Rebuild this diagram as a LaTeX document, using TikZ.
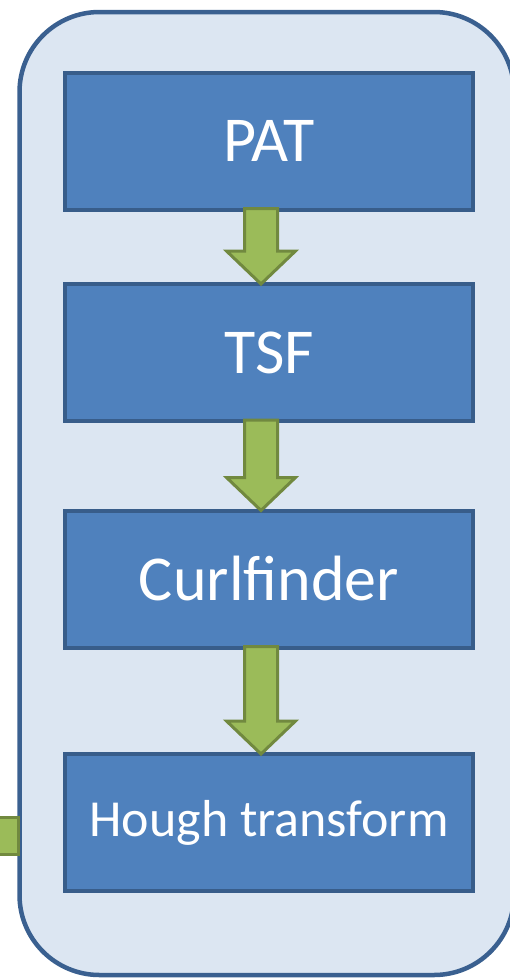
\documentclass[tikz,border=0pt]{standalone}
\usepackage{fontspec}
\setmainfont{Carlito}
\usetikzlibrary{calc}
\definecolor{panelfill}{HTML}{DCE6F2}
\definecolor{panelline}{HTML}{3A6090}
\definecolor{boxfill}{HTML}{4F81BD}
\definecolor{boxline}{HTML}{385D8A}
\definecolor{arrowfill}{HTML}{9BBB59}
\definecolor{arrowline}{HTML}{71893F}
\tikzset{
  x=1pt, y=1pt,
  stagebox/.style={draw=boxline, fill=boxfill, line width=4pt,
    minimum width=408pt, minimum height=137pt, inner sep=0pt,
    text=white, font=\fontsize{64}{64}\selectfont},
  smalltext/.style={font=\fontsize{52}{52}\selectfont},
  flowarrow/.style={draw=arrowline, fill=arrowfill, line width=3pt, line join=miter},
}
% block arrow from the bottom of one stage to the top of the next
\newcommand{\blockarrow}[2]{%
  \path[flowarrow] let \p1=($(#1.south)+(-8,3)$), \p2=($(#2.north)+(-8,-2)$) in
    (\x1-16.5,\y1) -- (\x1+16.5,\y1) -- (\x1+16.5,\y2+33) -- (\x1+34.5,\y2+33)
    -- (\x1,\y2) -- (\x1-34.5,\y2+33) -- (\x1-16.5,\y2+33) -- cycle;}
\begin{document}
\begin{tikzpicture}
\useasboundingbox (0,-980) rectangle (510,0);
\begin{scope}
\clip (0,-980) rectangle (510,0);
% outer panel
\draw[panelline, fill=panelfill, line width=4.5pt, rounded corners=80pt]
  (19.5,-12) rectangle (514,-975);
% stages
\node[stagebox] (pat) at (269,-141) {PAT};
\node[stagebox] (tsf) at (269,-352.5) {TSF};
\node[stagebox] (curl) at (269,-579) {Curlfinder};
\node[stagebox, smalltext] (hough) at (269,-822.5) {Hough transform};
% arrows between stages
\blockarrow{pat}{tsf}
\blockarrow{tsf}{curl}
\blockarrow{curl}{hough}
% incoming arrow stub at the left edge
\coordinate (stubA) at (-10,-817);
\coordinate (stubB) at (18.5,-854);
\draw[flowarrow] (stubA) rectangle (stubB);
\end{scope}
\end{tikzpicture}
\end{document}
